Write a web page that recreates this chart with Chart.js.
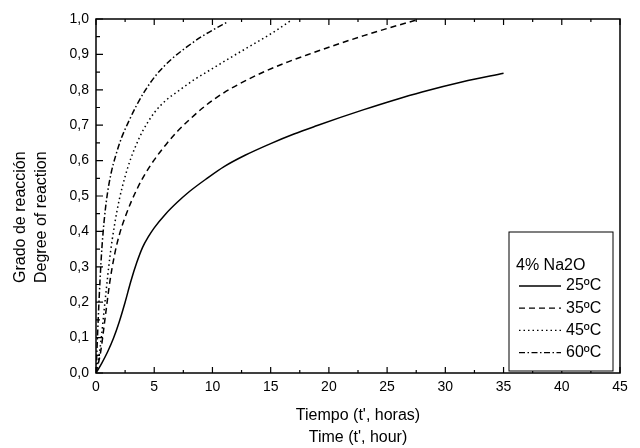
<!DOCTYPE html>
<html>
<head>
<meta charset="utf-8">
<script src="https://cdn.jsdelivr.net/npm/chart.js@4.4.1/dist/chart.umd.min.js"></script>
<style>
  html, body { margin: 0; padding: 0; background: #fff; }
  #wrap { width: 640px; height: 448px; }
</style>
</head>
<body>
<div id="wrap"><canvas id="chart" width="640" height="448"></canvas></div>
<script>
const FONT = "'Liberation Sans', Arial, Helvetica, sans-serif";

const X_TITLE = ["Tiempo (t', horas)", "Time (t', hour)"];
const Y_TITLE = ['Grado de reacción', 'Degree of reaction'];
const LEGEND_TITLE = '4% Na2O';
const LABELS = ['25ºC', '35ºC', '45ºC', '60ºC'];

// 25ºC
const t25 = [0, 0.5, 1, 1.5, 2, 2.5, 3, 3.5, 4, 4.5, 5, 6, 7, 8, 9.5, 11, 12.8, 15, 17, 19, 21, 23, 25.5, 28, 31.5, 35];
const a25 = [0, 0.028, 0.06, 0.098, 0.145, 0.2, 0.26, 0.312, 0.355, 0.385, 0.41, 0.45, 0.483, 0.512, 0.549, 0.583, 0.615, 0.648, 0.675, 0.699, 0.722, 0.744, 0.77, 0.794, 0.823, 0.847];
// 35ºC
const t35 = [0, 0.4, 0.8, 1.2, 1.6, 2, 2.5, 3, 3.5, 4, 5, 6, 7, 8, 9.4, 11, 12.8, 14.5, 16.5, 18.5, 20.5, 23, 25.5, 27.5];
const a35 = [0, 0.06, 0.16, 0.26, 0.335, 0.39, 0.44, 0.482, 0.518, 0.55, 0.602, 0.645, 0.683, 0.715, 0.755, 0.792, 0.825, 0.852, 0.879, 0.903, 0.926, 0.953, 0.978, 0.997];
// 45ºC
const t45 = [0, 0.35, 0.8, 1.2, 1.6, 2, 2.5, 3, 3.5, 4, 5, 6, 7, 8.5, 10, 11.4, 12.8, 14.2, 15.4, 16.7];
const a45 = [0, 0.07, 0.21, 0.33, 0.42, 0.49, 0.555, 0.607, 0.648, 0.683, 0.735, 0.77, 0.795, 0.83, 0.86, 0.888, 0.915, 0.942, 0.966, 0.995];
// 60ºC
const t60 = [0, 0.1, 0.2, 0.35, 0.5, 0.7, 0.95, 1.3, 1.7, 2.2, 2.8, 3.5, 4.2, 5.2, 6.5, 7.8, 9.1, 10.2, 11.2];
const a60 = [0, 0.08, 0.16, 0.265, 0.35, 0.43, 0.5, 0.565, 0.615, 0.665, 0.71, 0.757, 0.797, 0.843, 0.887, 0.921, 0.951, 0.972, 0.99];

const SERIES = [[t25, a25], [t35, a35], [t45, a45], [t60, a60]];
const DASHES = [[], [6, 4], [1.5, 3], [6, 2.5, 1.5, 2.5]];

const pts = (xs, ys) => xs.map((x, i) => ({ x, y: ys[i] }));

// frame, inward ticks, axis titles and the boxed legend
const decor = {
  id: 'decor',
  afterDraw(chart) {
    const { ctx, chartArea: { left, right, top, bottom }, scales: { x, y } } = chart;
    ctx.save();
    ctx.strokeStyle = '#000';
    ctx.lineWidth = 1.5;
    ctx.strokeRect(left, top, right - left, bottom - top);

    ctx.lineWidth = 1.2;
    ctx.beginPath();
    for (let i = 0; i <= 18; i++) {
      const px = x.getPixelForValue(i * 2.5);
      const len = i % 2 === 0 ? 6 : 3;
      ctx.moveTo(px, bottom); ctx.lineTo(px, bottom - len);
      ctx.moveTo(px, top); ctx.lineTo(px, top + len);
    }
    for (let i = 0; i <= 20; i++) {
      const py = y.getPixelForValue(i * 0.05);
      const len = i % 2 === 0 ? 7 : 4;
      ctx.moveTo(left, py); ctx.lineTo(left + len, py);
    }
    ctx.stroke();

    ctx.fillStyle = '#000';
    ctx.font = '16px ' + FONT;
    ctx.textAlign = 'center';
    ctx.textBaseline = 'middle';
    const cx = (left + right) / 2;
    ctx.fillText(X_TITLE[0], cx, 416);
    ctx.fillText(X_TITLE[1], cx, 438);

    ctx.save();
    ctx.translate(21, 283);
    ctx.rotate(-Math.PI / 2);
    ctx.textAlign = 'left';
    ctx.fillText(Y_TITLE[0], 0, 0);
    ctx.fillText(Y_TITLE[1], 0, 21);
    ctx.restore();

    // legend box
    const bx = 509, by = 232, bw = 104, bh = 139;
    ctx.fillStyle = '#fff';
    ctx.fillRect(bx, by, bw, bh);
    ctx.lineWidth = 1;
    ctx.strokeRect(bx, by, bw, bh);
    ctx.fillStyle = '#000';
    ctx.textAlign = 'left';
    ctx.fillText(LEGEND_TITLE, 516, 266);
    chart.data.datasets.forEach((ds, i) => {
      const ly = 286 + i * 22.2;
      ctx.save();
      ctx.strokeStyle = '#000';
      ctx.lineWidth = 1.3;
      ctx.setLineDash(ds.borderDash);
      ctx.beginPath();
      ctx.moveTo(519, ly); ctx.lineTo(561, ly);
      ctx.stroke();
      ctx.restore();
      ctx.fillText(ds.label, 566, ly);
    });
    ctx.restore();
  }
};

new Chart(document.getElementById('chart'), {
  type: 'line',
  data: {
    datasets: SERIES.map(([xs, ys], i) => ({
      label: LABELS[i],
      data: pts(xs, ys),
      borderColor: '#000',
      borderWidth: 1.5,
      borderDash: DASHES[i],
      pointRadius: 0,
      fill: false,
      cubicInterpolationMode: 'monotone'
    }))
  },
  options: {
    responsive: false,
    animation: false,
    devicePixelRatio: 1,
    layout: { padding: { left: 0, right: 20, top: 19, bottom: 0 } },
    plugins: { legend: { display: false }, tooltip: { enabled: false } },
    scales: {
      x: {
        type: 'linear',
        min: 0, max: 45,
        grid: { display: false, drawTicks: false },
        border: { display: false },
        ticks: {
          stepSize: 5,
          padding: 6,
          color: '#000',
          maxRotation: 0,
          font: { family: FONT, size: 14 }
        },
        afterFit: s => { s.height = 75; }
      },
      y: {
        type: 'linear',
        min: 0, max: 1,
        grid: { display: false, drawTicks: false },
        border: { display: false },
        ticks: {
          stepSize: 0.1,
          padding: 7,
          color: '#000',
          font: { family: FONT, size: 14 },
          callback: v => v.toFixed(1).replace('.', ',')
        },
        afterFit: s => { s.width = 96; }
      }
    }
  },
  plugins: [decor]
});
</script>
</body>
</html>
